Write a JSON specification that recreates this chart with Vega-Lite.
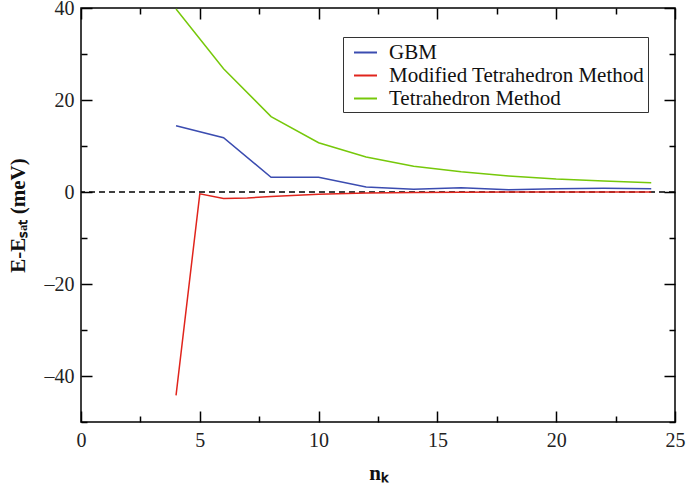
{
  "$schema": "https://vega.github.io/schema/vega-lite/v6.json",
  "autosize": "none",
  "width": 594,
  "height": 414,
  "padding": {"left": 81, "top": 8, "right": 11, "bottom": 69},
  "background": "white",
  "config": {
    "font": "Liberation Serif",
    "view": {"stroke": "black", "strokeWidth": 1.5},
    "axis": {"grid": false, "domainColor": "black", "domainWidth": 1.5, "tickColor": "black", "tickWidth": 1.5, "labelFont": "Liberation Serif", "labelFontSize": 20, "labelColor": "#222", "labelFlush": false, "titleFont": "Liberation Serif", "titleFontSize": 21, "titleColor": "#111"}
  },
  "datasets": {
    "series": [
      {"nk": 4, "dE": 14.4, "method": "GBM"},
      {"nk": 6, "dE": 11.8, "method": "GBM"},
      {"nk": 8, "dE": 3.2, "method": "GBM"},
      {"nk": 10, "dE": 3.2, "method": "GBM"},
      {"nk": 12, "dE": 1.1, "method": "GBM"},
      {"nk": 14, "dE": 0.6, "method": "GBM"},
      {"nk": 16, "dE": 0.9, "method": "GBM"},
      {"nk": 18, "dE": 0.5, "method": "GBM"},
      {"nk": 20, "dE": 0.7, "method": "GBM"},
      {"nk": 22, "dE": 0.8, "method": "GBM"},
      {"nk": 24, "dE": 0.7, "method": "GBM"},
      {"nk": 4, "dE": -44.2, "method": "Modified Tetrahedron Method"},
      {"nk": 5, "dE": -0.4, "method": "Modified Tetrahedron Method"},
      {"nk": 6, "dE": -1.4, "method": "Modified Tetrahedron Method"},
      {"nk": 7, "dE": -1.3, "method": "Modified Tetrahedron Method"},
      {"nk": 8, "dE": -1.0, "method": "Modified Tetrahedron Method"},
      {"nk": 10, "dE": -0.5, "method": "Modified Tetrahedron Method"},
      {"nk": 12, "dE": -0.2, "method": "Modified Tetrahedron Method"},
      {"nk": 14, "dE": -0.1, "method": "Modified Tetrahedron Method"},
      {"nk": 16, "dE": -0.05, "method": "Modified Tetrahedron Method"},
      {"nk": 18, "dE": 0.0, "method": "Modified Tetrahedron Method"},
      {"nk": 20, "dE": 0.0, "method": "Modified Tetrahedron Method"},
      {"nk": 22, "dE": 0.0, "method": "Modified Tetrahedron Method"},
      {"nk": 24, "dE": 0.0, "method": "Modified Tetrahedron Method"},
      {"nk": 4, "dE": 39.8, "method": "Tetrahedron Method"},
      {"nk": 6, "dE": 26.8, "method": "Tetrahedron Method"},
      {"nk": 8, "dE": 16.4, "method": "Tetrahedron Method"},
      {"nk": 10, "dE": 10.7, "method": "Tetrahedron Method"},
      {"nk": 12, "dE": 7.6, "method": "Tetrahedron Method"},
      {"nk": 14, "dE": 5.6, "method": "Tetrahedron Method"},
      {"nk": 16, "dE": 4.4, "method": "Tetrahedron Method"},
      {"nk": 18, "dE": 3.5, "method": "Tetrahedron Method"},
      {"nk": 20, "dE": 2.8, "method": "Tetrahedron Method"},
      {"nk": 22, "dE": 2.4, "method": "Tetrahedron Method"},
      {"nk": 24, "dE": 2.0, "method": "Tetrahedron Method"}
    ],
    "zero": [{"y": 0}]
  },
  "layer": [
    {
      "data": {"name": "zero"},
      "mark": {"type": "rule", "color": "black", "strokeWidth": 1.5, "strokeDash": [6, 4]},
      "encoding": {
        "y": {"field": "y", "type": "quantitative", "scale": {"domain": [-50, 40], "nice": false},
          "axis": {"orient": "right", "labels": false, "title": null, "domain": false, "values": [-50, -40, -30, -20, -10, 0, 10, 20, 30, 40],
            "tickSize": {"condition": {"test": "datum.value % 20 === 0", "value": -11}, "value": -6}}}
      }
    },
    {
      "data": {"name": "series"},
      "mark": {"type": "line", "strokeWidth": 1.5, "clip": true},
      "encoding": {
        "x": {"field": "nk", "type": "quantitative", "scale": {"domain": [0, 25], "nice": false},
          "axis": {"title": "nₖ", "titleFontWeight": "bold", "titlePadding": 12, "values": [0, 2.5, 5, 7.5, 10, 12.5, 15, 17.5, 20, 22.5, 25],
            "labelExpr": "datum.value % 5 === 0 ? datum.label : ''", "labelPadding": 19, "domain": false,
            "tickSize": {"condition": {"test": "datum.value % 5 === 0", "value": -11}, "value": -6}}},
        "y": {"field": "dE", "type": "quantitative", "scale": {"domain": [-50, 40], "nice": false},
          "axis": {"title": "E-Eₛₐₜ  (meV)", "titleFontWeight": "bold", "titleX": -63, "titleY": 207, "titleBaseline": "middle", "titleAngle": 270, "titleAlign": "center", "values": [-50, -40, -30, -20, -10, 0, 10, 20, 30, 40],
            "labelExpr": "datum.value % 20 === 0 ? replace(datum.label, '−', '–') : ''", "labelPadding": 18, "domain": false,
            "tickSize": {"condition": {"test": "datum.value % 20 === 0", "value": -11}, "value": -6}}},
        "color": {"field": "method", "type": "nominal",
          "scale": {"domain": ["GBM", "Modified Tetrahedron Method", "Tetrahedron Method"], "range": ["#3b4cb0", "#e0241c", "#76c80a"]},
          "legend": {"title": null, "orient": "none", "legendX": 262, "legendY": 29, "symbolType": "stroke", "symbolSize": 529, "symbolStrokeWidth": 2,
            "labelFont": "Liberation Serif", "labelFontSize": 21, "labelColor": "#111", "labelLimit": 0, "rowPadding": 0, "padding": 3,
            "strokeColor": "#333", "fillColor": "white", "symbolOffset": 7, "labelOffset": 11}}
      }
    },
    {
      "data": {"name": "zero"},
      "mark": {"type": "rule", "opacity": 0},
      "encoding": {
        "x": {"datum": 0, "type": "quantitative", "scale": {"domain": [0, 25], "nice": false},
          "axis": {"orient": "top", "labels": false, "title": null, "domain": false, "values": [0, 2.5, 5, 7.5, 10, 12.5, 15, 17.5, 20, 22.5, 25],
            "tickSize": {"condition": {"test": "datum.value % 5 === 0", "value": -11}, "value": -6}}}
      }
    }
  ],
  "resolve": {"axis": {"x": "independent", "y": "independent"}}
}
